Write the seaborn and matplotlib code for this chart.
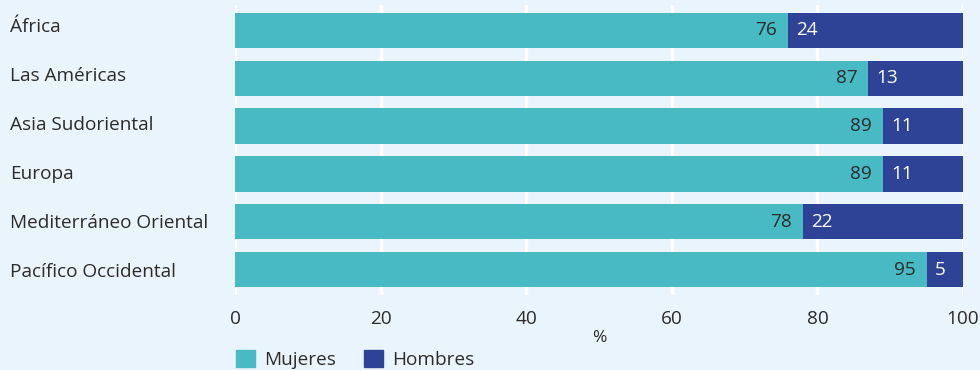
import matplotlib
matplotlib.use("Agg")
import matplotlib.pyplot as plt
import seaborn as sns
import pandas as pd
from matplotlib.patches import Patch

regions = ["África", "Las Américas", "Asia Sudoriental", "Europa",
           "Mediterráneo Oriental", "Pacífico Occidental"]
mujeres = [76, 87, 89, 89, 78, 95]
hombres = [24, 13, 11, 11, 22, 5]
xticks = [0, 20, 40, 60, 80, 100]

TEAL = "#48BAC4"
NAVY = "#2E4396"
BG = "#EAF4FD"
TXT = "#2b2b2b"
FS = 13.7

sns.set_theme(style="white")
plt.rcParams["font.family"] = ["Open Sans", "DejaVu Sans"]

df = pd.DataFrame({"region": regions, "Mujeres": mujeres, "Hombres": hombres})
df["Total"] = df["Mujeres"] + df["Hombres"]

fig = plt.figure(figsize=(9.8, 3.7), dpi=100, facecolor=BG)
ax = fig.add_axes([235/980, 1-295/370, (963-235)/980, (295-5)/370])
ax.set_facecolor(BG)

sns.barplot(data=df, y="region", x="Total", color=NAVY, orient="h",
            width=0.735, ax=ax, saturation=1, linewidth=0)
sns.barplot(data=df, y="region", x="Mujeres", color=TEAL, orient="h",
            width=0.735, ax=ax, saturation=1, linewidth=0)

for i, (m, h) in enumerate(zip(mujeres, hombres)):
    ax.text(m - 1.5, i, str(m), ha="right", va="center", fontsize=FS, color=TXT)
    ax.text(m + 1.1, i, str(h), ha="left", va="center", fontsize=FS, color="white")

ax.set_xlim(0, 100)
ax.set_ylim(5.53, -0.53)
ax.set_xticks(xticks)
ax.set_xticklabels([str(t) for t in xticks], fontsize=FS, color=TXT)
ax.tick_params(axis="x", length=0, pad=11)
ax.tick_params(axis="y", length=0)
ax.set_yticks(range(len(regions)))
ax.set_yticklabels([])
for i, r in enumerate(regions):
    ax.text(10/980, 1-(32+i*49)/370, r, transform=fig.transFigure,
            ha="left", va="baseline", fontsize=FS, color=TXT)
ax.set_ylabel("")
ax.set_xlabel("%", fontsize=12.5, color=TXT, labelpad=1)
ax.grid(axis="x", color="white", linewidth=2.5, zorder=0)
ax.set_axisbelow(True)
for s in ax.spines.values():
    s.set_visible(False)

handles = [Patch(color=TEAL, label="Mujeres"), Patch(color=NAVY, label="Hombres")]
fig.legend(handles=handles, loc="lower left", bbox_to_anchor=(236/980, 1/370),
           ncol=2, frameon=False, fontsize=FS, handlelength=1.0, handleheight=1.0,
           handletextpad=0.47, columnspacing=1.5, labelcolor=TXT,
           borderpad=0, borderaxespad=0)

fig.savefig("out.png", dpi=100, facecolor=BG)
